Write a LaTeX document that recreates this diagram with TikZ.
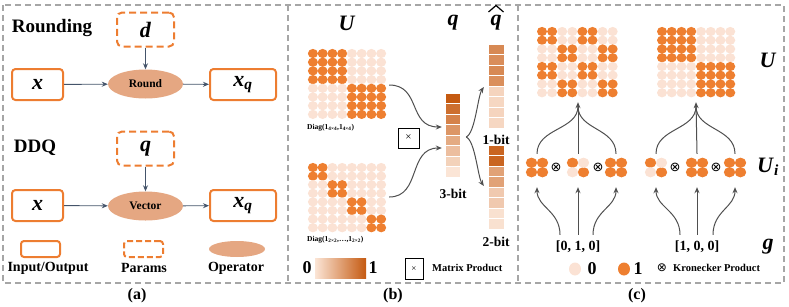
\documentclass[tikz,border=0pt]{standalone}
\usepackage{fontspec}
\setmainfont{Liberation Serif}
\newfontfamily\symfont{DejaVu Sans}
\usetikzlibrary{arrows.meta,shapes.geometric,calc}
\definecolor{bOrange}{HTML}{ED7D31}
\definecolor{dotO}{HTML}{EE7F30}
\definecolor{dotL}{HTML}{FBE2D4}
\definecolor{opFill}{HTML}{E5A782}
\definecolor{arrA}{HTML}{44546A}
\definecolor{arrG}{HTML}{4F4F4F}
\definecolor{frameG}{HTML}{A6A6A6}
\definecolor{qDark}{HTML}{C55A11}
\definecolor{qLight}{HTML}{FBE5D6}
\newcommand\bi[1]{\textbf{\textit{#1}}}
\newcommand\mdot[3]{\fill[#1] (#2,#3) ellipse[x radius=5pt, y radius=4.6pt];}
\newcommand\udot[3]{\fill[#1] (#2,#3) ellipse[x radius=5.7pt, y radius=5.1pt];}
\newcommand\fs[1]{\fontsize{#1}{#1}\selectfont}
\tikzset{
  iobox/.style={draw=bOrange, line width=2pt, rounded corners=3.5pt, minimum width=51pt, minimum height=31pt, inner sep=0pt, font=\fs{22}},
  parbox/.style={draw=bOrange, line width=2pt, dash pattern=on 7pt off 4pt, rounded corners=5pt, minimum width=57pt, minimum height=34pt, inner sep=0pt, font=\fs{22}},
  opnode/.style={ellipse, fill=opFill, minimum width=75pt, minimum height=29pt, inner sep=0pt, font=\bfseries\fs{11.5}},
  arrowA/.style={draw=arrA, line width=0.9pt, -{Stealth[length=6pt,width=5pt]}},
  arrowG/.style={draw=arrG, line width=1pt, -{Stealth[length=6pt,width=5pt]}},
  plainG/.style={draw=arrG, line width=1pt},
  lbl/.style={font=\bfseries\fs{14}, inner sep=0pt},
  mlbl/.style={font=\fs{22}, inner sep=0pt},
  blank/.style={inner sep=0pt, draw=none},
  prodbox/.style={draw=black, line width=0.8pt, inner sep=0pt, font=\mdseries\fs{11}},
  kron/.style={font=\symfont\fs{13}, inner sep=0pt},
}
\begin{document}
\begin{tikzpicture}[x=1pt,y=-1pt]
\useasboundingbox (0,0) rectangle (789,306);
% frames
\draw[frameG, line width=1.3pt, dash pattern=on 6pt off 4pt] (3,5) rectangle (784,283);
\draw[frameG, line width=1.3pt, dash pattern=on 6pt off 4pt] (288,5) -- (288,283);
\draw[frameG, line width=1.3pt, dash pattern=on 6pt off 4pt] (518,5) -- (518,283);
% ---------------- panel (a)
\node[font=\bfseries\fs{19}, inner sep=0pt] (rnd) at (52,28) {Rounding};
\node[parbox] (d) at (145.5,29.5) {\bi{d}};
\node[iobox] (x1) at (37.5,84.5) {\bi{x}};
\node[opnode] (op1) at (145.5,84) {Round};
\node[iobox, minimum width=66pt] (xq1) at (243,84.5) {\bi{x}\textsubscript{\bi{q}}};
\draw[arrowA] (x1) -- (op1);
\draw[arrowA] (op1) -- (xq1);
\draw[arrowA] (d) -- (op1);
\node[font=\bfseries\fs{19}, inner sep=0pt] (ddq) at (35,148) {DDQ};
\node[parbox] (qp) at (145.5,148.5) {\bi{q}};
\node[iobox] (x2) at (37.5,205.5) {\bi{x}};
\node[opnode] (op2) at (145.5,206) {Vector};
\node[iobox, minimum width=66pt] (xq2) at (243,205.5) {\bi{x}\textsubscript{\bi{q}}};
\draw[arrowA] (x2) -- (op2);
\draw[arrowA] (op2) -- (xq2);
\draw[arrowA] (qp) -- (op2);
% legend (a)
\node[iobox, minimum width=39pt, minimum height=16pt, rounded corners=3pt] (lio) at (40.5,249) {};
\node[parbox, minimum width=39pt, minimum height=16pt, rounded corners=3pt, dash pattern=on 6pt off 3pt] (lpar) at (143.5,249) {};
\node[opnode, minimum width=56pt, minimum height=16pt] (lop) at (237,249) {};
\node[lbl] (tio) at (48,268) {Input/Output};
\node[lbl] (tpar) at (144,268) {Params};
\node[lbl] (top) at (236,268) {Operator};
\node[font=\bfseries\fs{16}, inner sep=0pt] (capa) at (137,296) {(a)};
% ---------------- panel (b)
\node[mlbl] (Ub) at (347,23) {\bi{U}};
\node[mlbl] (qb) at (453,23) {\bi{q}};
\node[mlbl] (qhb) at (496,23) {\bi{q}};
\draw[black, line width=1.2pt] (488.5,12) -- (496,5.5) -- (503.5,12);
\node[blank, minimum width=78pt, minimum height=70pt] (topM) at (347,84) {};
\node[blank, minimum width=78pt, minimum height=70pt] (botM) at (347,197) {};
\foreach \r in {0,...,7}{\foreach \c in {0,...,7}{
  \pgfmathtruncatemacro\on{int(\r/4)==int(\c/4)}
  \ifnum\on=1 \mdot{dotO}{312.9+9.75*\c}{53.5+8.7*\r}\else\mdot{dotL}{312.9+9.75*\c}{53.5+8.7*\r}\fi
  \pgfmathtruncatemacro\onb{int(\r/2)==int(\c/2)}
  \ifnum\onb=1 \mdot{dotO}{312.9+9.75*\c}{167.5+8.6*\r}\else\mdot{dotL}{312.9+9.75*\c}{167.5+8.6*\r}\fi
}}
\node[font=\bfseries\fs{7.5}, inner sep=0pt, anchor=west] (dg1) at (307,128) {Diag(\textbf{1}\textsubscript{4×4},\textbf{1}\textsubscript{4×4})};
\node[font=\bfseries\fs{7.5}, inner sep=0pt, anchor=west] (dg2) at (307,240) {Diag(\textbf{1}\textsubscript{2×2},…,\textbf{1}\textsubscript{2×2})};
\node[prodbox, minimum width=21pt, minimum height=20pt] (mx) at (408.5,138) {×};
% q vector
\node[blank, minimum width=15pt, minimum height=84pt] (qvec) at (452.5,135) {};
\foreach \i in {0,...,7}{
  \pgfmathtruncatemacro\pc{100-\i*100/7}
  \filldraw[fill=qDark!\pc!qLight, draw=white, line width=0.3pt] (445,93+10.5*\i) rectangle (460,103.5+10.5*\i);
}
\node[lbl, font=\bfseries\fs{13.5}] (b3) at (453,194) {3-bit};
% qhat 1-bit
\node[blank, minimum width=16pt, minimum height=84pt] (qh1) at (496,86) {};
\foreach \i/\p in {0/66,1/63,2/66,3/62,4/12,5/10,6/12,7/10}{
  \filldraw[fill=qDark!\p!qLight, draw=white, line width=0.3pt] (488,44+10.5*\i) rectangle (504,54.5+10.5*\i);
}
\node[lbl, font=\bfseries\fs{13.5}] (b1) at (496,140) {1-bit};
% qhat 2-bit
\node[blank, minimum width=16pt, minimum height=84pt] (qh2) at (496,187) {};
\foreach \i/\p in {0/92,1/92,2/48,3/48,4/20,5/20,6/3,7/3}{
  \filldraw[fill=qDark!\p!qLight, draw=white, line width=0.3pt] (488,145+10.5*\i) rectangle (504,155.5+10.5*\i);
}
\node[lbl, font=\bfseries\fs{13.5}] (b2) at (496,242) {2-bit};
% curves (b)
\draw[arrowG] ($(topM.east)+(3,1)$) .. controls +(32,0) and +(-34,0) .. ($(qvec.west)+(-3,-8)$);
\draw[arrowG] ($(botM.east)+(3,0)$) .. controls +(32,0) and +(-34,0) .. ($(qvec.west)+(-3,13)$);
\coordinate (fork) at ($(qvec.east)+(6,2)$);
\draw[arrowG] (fork) .. controls +(9,-4) and +(-6,9) .. ($(qh1.west)+(-4,1)$);
\draw[arrowG] (fork) .. controls +(9,4) and +(-6,-9) .. ($(qh2.west)+(-4,-1)$);
% legend (b)
\node[font=\bfseries\fs{18}, inner sep=0pt] (z0) at (307,268) {0};
\shade[left color=qLight, right color=qDark] (315,258) rectangle (366,278);
\node[blank, minimum width=51pt, minimum height=20pt] (cbar) at (340.5,268) {};
\node[font=\bfseries\fs{18}, inner sep=0pt] (z1) at (373,268) {1};
\node[prodbox, minimum width=18pt, minimum height=21pt, font=\mdseries\fs{9}] (mxl) at (414,269) {×};
\node[font=\bfseries\fs{10.5}, inner sep=0pt, anchor=west] (mpt) at (432,268) {Matrix Product};
\node[font=\bfseries\fs{16}, inner sep=0pt] (capb) at (393,296) {(b)};
% ---------------- panel (c)
\node[blank, minimum width=81pt, minimum height=70pt] (UL) at (577.5,62) {};
\node[blank, minimum width=78pt, minimum height=70pt] (UR) at (696,62) {};
\foreach \r in {0,...,7}{\foreach \c in {0,...,7}{
  \pgfmathtruncatemacro\on{mod(int(\r/2),2)==mod(int(\c/2),2)}
  \ifnum\on=1 \mdot{dotO}{542+10.1*\c}{31.5+8.75*\r}\else\mdot{dotL}{542+10.1*\c}{31.5+8.75*\r}\fi
  \pgfmathtruncatemacro\onb{int(\r/4)==int(\c/4)}
  \ifnum\onb=1 \mdot{dotO}{662+9.75*\c}{31.5+8.75*\r}\else\mdot{dotL}{662+9.75*\c}{31.5+8.75*\r}\fi
}}
\node[mlbl] (Uc) at (768,60) {\bi{U}};
% Ui blocks
\foreach \nm/\cx/\full in {L1/537/1,L2/578/0,L3/616/1,R1/656/0,R2/697/1,R3/735/1}{
  \node[blank, minimum width=22pt, minimum height=19pt] (\nm) at (\cx,167.5) {};
  \udot{dotO}{\cx-5.5}{162.75}
  \udot{dotO}{\cx+5.5}{172.25}
  \ifnum\full=1
    \udot{dotO}{\cx+5.5}{162.75}\udot{dotO}{\cx-5.5}{172.25}
  \else
    \udot{dotL}{\cx+5.5}{162.75}\udot{dotL}{\cx-5.5}{172.25}
  \fi
}
\node[kron] (k1) at (556,167.5) {⊗};
\node[kron] (k2) at (598,167.5) {⊗};
\node[kron] (k3) at (675,167.5) {⊗};
\node[kron] (k4) at (716,167.5) {⊗};
\node[mlbl] (Uic) at (768,167) {\bi{U}\textsubscript{\bi{i}}};
% g labels
\node[lbl] (g1) at (578,247) {[0, 1, 0]};
\node[lbl] (g2) at (697,247) {[1, 0, 0]};
\node[mlbl] (gc) at (768,247) {\bi{g}};
% arrows g -> Ui
\draw[arrowG] ($(g1.north)+(-18,-6)$) .. controls +(0,-24) and +(0,20) .. ($(L1.south)+(0,10)$);
\draw[arrowG] ($(g1.north)+(0,-6)$) -- ($(L2.south)+(0,10)$);
\draw[arrowG] ($(g1.north)+(15,-6)$) .. controls +(0,-24) and +(0,20) .. ($(L3.south)+(0,10)$);
\draw[arrowG] ($(g2.north)+(-17,-6)$) .. controls +(0,-24) and +(0,20) .. ($(R1.south)+(0,10)$);
\draw[arrowG] ($(g2.north)+(0,-6)$) -- ($(R2.south)+(0,10)$);
\draw[arrowG] ($(g2.north)+(16,-6)$) .. controls +(0,-24) and +(0,20) .. ($(R3.south)+(0,10)$);
% arrows Ui -> U
\draw[plainG] ($(L1.north)+(0,-4)$) .. controls +(0,-26) and +(0,24) .. ($(UL.south)+(0.5,9)$);
\draw[plainG] ($(L3.north)+(0,-4)$) .. controls +(0,-26) and +(0,24) .. ($(UL.south)+(0.5,9)$);
\draw[arrowG] ($(L2.north)+(0,-4)$) -- ($(UL.south)+(0.5,5)$);
\draw[plainG] ($(R1.north)+(0,-4)$) .. controls +(0,-26) and +(0,24) .. ($(UR.south)+(0,9)$);
\draw[plainG] ($(R3.north)+(0,-4)$) .. controls +(0,-26) and +(0,24) .. ($(UR.south)+(0,9)$);
\draw[arrowG] ($(R2.north)+(0,-4)$) -- ($(UR.south)+(0,5)$);
% legend (c)
\fill[dotL] (575,269) ellipse[x radius=6pt, y radius=6.5pt];
\node[font=\bfseries\fs{18}, inner sep=0pt] (c0) at (592,269) {0};
\fill[dotO] (624,269) ellipse[x radius=6pt, y radius=6.5pt];
\node[font=\bfseries\fs{18}, inner sep=0pt] (c1) at (638,269) {1};
\node[kron, font=\symfont\fs{12}] (kl) at (662,268) {⊗};
\node[font=\bfseries\fs{10.5}, inner sep=0pt, anchor=west] (kpt) at (673,268) {Kronecker Product};
\node[font=\bfseries\fs{16}, inner sep=0pt] (capc) at (637,296) {(c)};
\end{tikzpicture}
\end{document}
